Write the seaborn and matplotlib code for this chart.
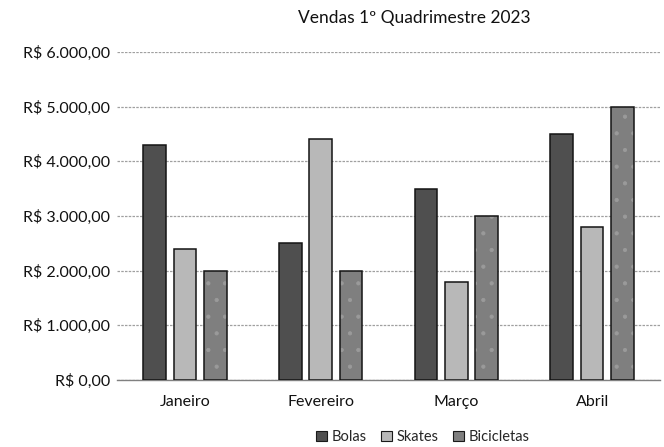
import matplotlib
matplotlib.use("Agg")
import matplotlib.pyplot as plt
import matplotlib.colors as mcolors
import seaborn as sns
import pandas as pd

months = ["Janeiro", "Fevereiro", "Março", "Abril"]
series = ["Bolas", "Skates", "Bicicletas"]
bolas = [4300, 2500, 3500, 4500]
skates = [2400, 4400, 1800, 2800]
bicicletas = [2000, 2000, 3000, 5000]
yticks = [0, 1000, 2000, 3000, 4000, 5000, 6000]
ytick_labels = ["R$ 0,00", "R$ 1.000,00", "R$ 2.000,00", "R$ 3.000,00",
                "R$ 4.000,00", "R$ 5.000,00", "R$ 6.000,00"]
title = "Vendas 1º Quadrimestre 2023"

colors = {"Bolas": "#4f4f4f", "Skates": "#b8b8b8", "Bicicletas": "#7f7f7f"}

rows = []
for name, vals in zip(series, [bolas, skates, bicicletas]):
    for m, v in zip(months, vals):
        rows.append({"Mês": m, "Série": name, "Valor": v})
df = pd.DataFrame(rows)

sns.set_theme(style="white")
plt.rcParams['font.family'] = ['Lato', 'DejaVu Sans']
plt.rcParams['hatch.linewidth'] = 0.6

fig = plt.figure(figsize=(6.64, 4.47), dpi=100)
ax = fig.add_axes([117/664, 1 - 380/447, (660 - 117)/664, (380 - 52)/447])

sns.barplot(data=df, x="Mês", y="Valor", hue="Série", order=months,
            hue_order=series, palette=colors, width=0.67, gap=0.25,
            edgecolor="#141414", linewidth=1.1, saturation=1, legend=False,
            ax=ax, errorbar=None)

# dotted texture on Bicicletas
for cont, name in zip(ax.containers, series):
    for p in cont:
        if name == "Bicicletas":
            p.set_hatch(".")
            p._hatch_color = mcolors.to_rgba("#9a9a9a")
        p.set_zorder(3)

ax.set_ylim(0, 6000)
ax.set_xlim(-0.5, 3.5)
ax.set_yticks(yticks)
ax.set_yticklabels(ytick_labels)
ax.yaxis.grid(True, color="#a0a0a0", linewidth=0.9, linestyle=(0, (2, 1)))
ax.set_axisbelow(True)
for s in ["top", "right", "left"]:
    ax.spines[s].set_visible(False)
ax.spines["bottom"].set_color("#808080")
ax.spines["bottom"].set_linewidth(1.0)
ax.tick_params(axis="both", length=0, labelsize=11.5, colors="#111111")
ax.tick_params(axis="x", pad=11)
ax.tick_params(axis="y", pad=5)
ax.set_xlabel("")
ax.set_ylabel("")

fig.text(414/664, 1 - 18/447, title, ha="center", va="center",
         fontsize=12.5, color="#111111")

handles = [plt.Rectangle((0, 0), 1, 1, facecolor=colors[n], edgecolor="#1a1a1a",
                         linewidth=0.8) for n in series]
leg = fig.legend(handles, series, loc="center", bbox_to_anchor=(423/664, 1 - 437/447),
                 ncol=3, frameon=False, fontsize=10.5, handlelength=0.7,
                 handleheight=0.7, handletextpad=0.35, columnspacing=1.0)

fig.savefig("out.png", dpi=100, facecolor="white")
